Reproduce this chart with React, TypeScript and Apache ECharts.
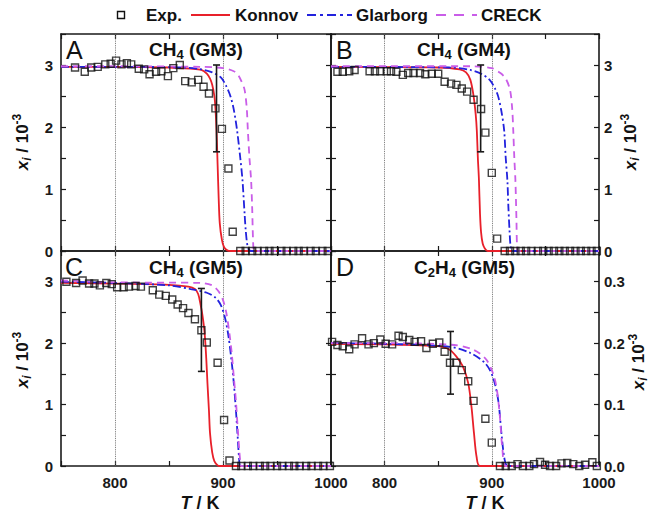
import React, { useEffect, useRef } from 'react';
import * as echarts from 'echarts';

const FONT = '"Liberation Sans", Arial, Helvetica, sans-serif';
const RED = '#e8202a';
const BLUE = '#2222dd';
const MAG = '#c95de8';
const INK = '#1a1a1a';

// x-axis tick labels (K) and dotted guide temperatures
const xTickLabels = [800, 900, 1000];
const gridTemps = [800, 900];

// ---------- Panel A : CH4 (GM3) ----------
const expA = [
  [763, 2.96], [772, 2.89], [778, 2.96], [784, 2.97], [791, 3.01], [796, 3.02], [801, 3.07], [806, 3.01],
  [811, 3.03], [815, 3.01], [822, 2.94], [827, 2.93], [832, 2.85], [838, 2.89], [843, 2.9], [849, 2.82],
  [854, 2.95], [860, 3.0], [865, 2.74], [871, 2.72], [877, 2.76], [882, 2.65], [887, 2.54], [893, 2.3],
  [899, 1.97], [905, 1.33], [909, 0.31],
  [916, 0], [921, 0], [927, 0], [932, 0], [938, 0], [943, 0], [948, 0], [954, 0], [959, 0], [965, 0],
  [970, 0], [975, 0], [981, 0], [986, 0], [992, 0], [997, 0],
];
const errA = [[894, 1.6, 3.0]];
const konnovA = [
  [750, 2.97], [800, 2.97], [850, 2.96], [870, 2.94], [880, 2.92], [885, 2.86], [888, 2.78], [890, 2.68],
  [892, 2.5], [893, 2.3], [894, 1.95], [895, 1.4], [896, 0.85], [897, 0.45], [899, 0.18], [901, 0.06],
  [904, 0.01], [907, 0], [1000, 0],
];
const glarborgA = [
  [750, 2.97], [800, 2.97], [860, 2.96], [880, 2.93], [890, 2.88], [898, 2.8], [903, 2.66], [907, 2.49],
  [910, 2.28], [913, 1.95], [916, 1.5], [918, 1.15], [920, 0.6], [921, 0.34], [922.5, 0.1], [924, 0.02],
  [926, 0], [1000, 0],
];
const creckA = [
  [750, 2.98], [800, 2.98], [880, 2.97], [900, 2.95], [910, 2.9], [914, 2.84], [917, 2.74], [920, 2.6],
  [922, 2.3], [923, 1.95], [924.5, 1.5], [926, 1.15], [927, 0.7], [928, 0.1], [929, 0], [1000, 0],
];

// ---------- Panel B : CH4 (GM4) ----------
const expB = [
  [756, 2.89], [761, 2.89], [767, 2.9], [772, 2.92], [786, 2.9], [791, 2.9], [796, 2.9], [802, 2.9],
  [806, 2.9], [811, 2.89], [817, 2.84], [822, 2.87], [827, 2.87], [833, 2.87], [838, 2.85], [844, 2.86],
  [850, 2.86], [856, 2.73], [862, 2.7], [867, 2.68], [872, 2.62], [877, 2.57], [883, 2.44], [890, 2.29],
  [894, 1.91], [900, 1.26], [905, 0.2],
  [912, 0], [917, 0], [922, 0], [927, 0], [932, 0], [937, 0], [943, 0], [948, 0], [953, 0], [958, 0],
  [963, 0], [968, 0], [973, 0], [978, 0], [983, 0], [988, 0], [993, 0], [998, 0],
];
const errB = [[889.6, 1.6, 3.0]];
const konnovB = [
  [750, 2.97], [850, 2.96], [870, 2.93], [876, 2.88], [880, 2.76], [883, 2.5], [885, 2.2], [886, 1.95],
  [887, 1.5], [888, 1.15], [889, 0.6], [890, 0.3], [891.5, 0.12], [893.5, 0.04], [896, 0], [1000, 0],
];
const glarborgB = [
  [750, 2.97], [860, 2.96], [880, 2.92], [890, 2.86], [898, 2.76], [903, 2.62], [906, 2.49], [909, 2.25],
  [911.5, 1.95], [913, 1.5], [914.5, 1.15], [915.5, 0.7], [916.5, 0.34], [917.5, 0.08], [919, 0], [1000, 0],
];
const creckB = [
  [750, 2.98], [880, 2.98], [900, 2.95], [908, 2.87], [913, 2.78], [917, 2.6], [919, 2.3], [920, 1.95],
  [921, 1.5], [922, 1.15], [923, 0.5], [923.5, 0.1], [924.5, 0], [1000, 0],
];

// ---------- Panel C : CH4 (GM5) ----------
const expC = [
  [755, 3.0], [764, 2.98], [770, 3.02], [776, 2.97], [781, 2.97], [786, 2.94], [792, 2.98], [797, 2.96],
  [802, 2.91], [808, 2.91], [813, 2.92], [819, 2.93], [824, 2.92], [835, 2.86], [841, 2.79], [847, 2.77],
  [853, 2.71], [858, 2.63], [863, 2.57], [868, 2.49], [874, 2.39], [880, 2.21], [885, 2.01], [895, 1.68],
  [901, 0.75], [906, 0.09],
  [912, 0], [917, 0], [923, 0], [928, 0], [934, 0], [939, 0], [944, 0], [950, 0], [955, 0], [961, 0],
  [966, 0], [971, 0], [977, 0], [982, 0], [988, 0], [993, 0], [999, 0],
];
const errC = [[880, 1.54, 2.89]];
const konnovC = [
  [750, 2.98], [800, 2.97], [850, 2.95], [868, 2.92], [874, 2.88], [877, 2.8], [879, 2.65], [881, 2.45],
  [883, 2.16], [884.5, 1.75], [885.6, 1.35], [887, 0.9], [888, 0.53], [890, 0.22], [892, 0.08], [895, 0.01],
  [897, 0], [1000, 0],
];
const glarborgC = [
  [750, 3.0], [800, 2.98], [850, 2.94], [870, 2.88], [885, 2.82], [893, 2.74], [898, 2.62], [902, 2.4],
  [905, 2.12], [908, 1.7], [910, 1.35], [912, 0.9], [913.4, 0.53], [915, 0.1], [916, 0], [1000, 0],
];
const creckC = [
  [750, 3.02], [800, 2.99], [880, 2.98], [890, 2.94], [896, 2.84], [900, 2.7], [903, 2.5], [906, 2.15],
  [908, 1.85], [910, 1.45], [912, 1.05], [913.5, 0.65], [915, 0.27], [916, 0.08], [917, 0], [1000, 0],
];

// ---------- Panel D : C2H4 (GM5) ----------
const expD = [
  [751, 0.202], [756, 0.197], [761, 0.195], [767, 0.19], [772, 0.198], [779, 0.208], [785, 0.198], [790, 0.2],
  [796, 0.206], [801, 0.199], [807, 0.198], [813, 0.212], [817, 0.21], [823, 0.205], [828, 0.202], [834, 0.203],
  [839, 0.192], [845, 0.199], [851, 0.201], [856, 0.186], [861, 0.168], [867, 0.168], [872, 0.156], [878, 0.138],
  [883, 0.106], [894, 0.077], [900, 0.038],
  [907.6, 0], [913, 0], [918.6, 0], [924, 0.003], [929, 0], [935, 0], [939.4, 0.003], [945, 0.0065],
  [949.7, 0.002], [954.3, 0], [960, 0], [965, 0.0043], [970.4, 0.005], [976, 0.003], [981.6, 0], [987, 0.002],
  [993.8, 0.006], [998, 0],
];
const errD = [[861.5, 0.117, 0.219]];
const konnovD = [
  [750, 0.199], [800, 0.198], [850, 0.195], [860, 0.19], [867, 0.178], [873, 0.162], [878, 0.135], [881, 0.097],
  [883.4, 0.053], [885.8, 0.015], [889, 0], [1000, 0],
];
const glarborgD = [
  [750, 0.2], [800, 0.199], [861, 0.194], [880, 0.184], [894, 0.167], [901, 0.145], [906, 0.107], [909, 0.053],
  [912, 0.01], [915, 0], [1000, 0],
];
const creckD = [
  [750, 0.2], [800, 0.2], [865, 0.197], [883, 0.189], [895, 0.173], [903, 0.14], [907, 0.091], [910, 0.026],
  [913, 0], [1000, 0],
];

const fmtInt = (v: number) => (Math.abs(v - Math.round(v)) < 1e-6 ? String(Math.round(v)) : '');
const fmtTenth = (v: number) => (Math.abs(v * 10 - Math.round(v * 10)) < 1e-6 ? v.toFixed(1) : '');
const fmtX = (v: number) => (xTickLabels.indexOf(Math.round(v)) >= 0 ? String(Math.round(v)) : '');

const panels = [
  { grid: { left: 61, top: 34, width: 270, height: 217 }, exp: expA, err: errA, k: konnovA, g: glarborgA, c: creckA, yMax: 3.5, yInt: 0.5, fmt: fmtInt, bottom: false, right: false },
  { grid: { left: 331, top: 34, width: 268, height: 217 }, exp: expB, err: errB, k: konnovB, g: glarborgB, c: creckB, yMax: 3.5, yInt: 0.5, fmt: fmtInt, bottom: false, right: true },
  { grid: { left: 61, top: 251, width: 270, height: 215 }, exp: expC, err: errC, k: konnovC, g: glarborgC, c: creckC, yMax: 3.5, yInt: 0.5, fmt: fmtInt, bottom: true, right: false },
  { grid: { left: 331, top: 251, width: 268, height: 215 }, exp: expD, err: errD, k: konnovD, g: glarborgD, c: creckD, yMax: 0.35, yInt: 0.05, fmt: fmtTenth, bottom: true, right: true },
];

const axisLine = { show: true, onZero: false, lineStyle: { color: INK, width: 1.6 } };
const axisTick = { show: true, inside: true, length: 5, lineStyle: { color: INK, width: 1.2 } };
const labelFont = { fontFamily: FONT, fontWeight: 'bold' as const, fontSize: 15, color: INK };

function buildOption() {
  const grid: any[] = [];
  const xAxis: any[] = [];
  const yAxis: any[] = [];
  const series: any[] = [];
  panels.forEach((p, i) => {
    grid.push({ ...p.grid, containLabel: false });
    const xBase = { type: 'value', gridIndex: i, min: 750, max: 1000, interval: 50, axisLine, axisTick, splitLine: { show: false } };
    xAxis.push({ ...xBase, position: 'bottom', axisLabel: { show: p.bottom, formatter: fmtX, margin: 9, ...labelFont } });
    xAxis.push({ ...xBase, position: 'top', axisLabel: { show: false } });
    const yBase = { type: 'value', gridIndex: i, min: 0, max: p.yMax, interval: p.yInt, axisLine, axisTick, splitLine: { show: false } };
    yAxis.push({ ...yBase, position: 'left', axisLabel: { show: !p.right, formatter: p.fmt, margin: 8, ...labelFont } });
    yAxis.push({ ...yBase, position: 'right', axisLabel: { show: p.right, formatter: p.fmt, margin: 5, ...labelFont } });
    const ax = { xAxisIndex: 2 * i, yAxisIndex: 2 * i };
    series.push({
      type: 'line', name: 'Konnov', ...ax, data: p.k, symbol: 'none', smooth: 0.3, z: 3,
      lineStyle: { color: RED, width: 1.8 },
      markLine: {
        silent: true, symbol: ['none', 'none'], z: 1, label: { show: false },
        lineStyle: { type: 'dotted', color: '#666', width: 0.9 },
        data: gridTemps.map((t) => ({ xAxis: t })),
      },
    });
    series.push({
      type: 'line', name: 'Glarborg', ...ax, data: p.g, symbol: 'none', smooth: 0.3, z: 3,
      lineStyle: { color: BLUE, width: 1.8, type: [8, 3, 2, 3] },
    });
    series.push({
      type: 'line', name: 'CRECK', ...ax, data: p.c, symbol: 'none', smooth: 0.3, z: 3,
      lineStyle: { color: MAG, width: 1.8, type: [7, 5] },
    });
    series.push({
      type: 'scatter', name: 'Exp.', ...ax, data: p.exp, symbol: 'rect', symbolSize: 7, z: 4,
      itemStyle: { color: 'rgba(0,0,0,0)', borderColor: '#111', borderWidth: 1.4 },
    });
    series.push({
      type: 'custom', name: 'err', ...ax, data: p.err, z: 5,
      encode: { x: 0, y: [1, 2] },
      renderItem: (_params: any, api: any) => {
        const x = api.value(0);
        const a = api.coord([x, api.value(1)]);
        const b = api.coord([x, api.value(2)]);
        const st = { stroke: INK, lineWidth: 1.6 };
        return {
          type: 'group',
          children: [
            { type: 'line', shape: { x1: a[0], y1: a[1], x2: b[0], y2: b[1] }, style: st },
            { type: 'line', shape: { x1: a[0] - 3.5, y1: a[1], x2: a[0] + 3.5, y2: a[1] }, style: st },
            { type: 'line', shape: { x1: b[0] - 3.5, y1: b[1], x2: b[0] + 3.5, y2: b[1] }, style: st },
          ],
        };
      },
    });
  });

  const txt = (x: number, y: number, text: string, rich: any, align = 'center', rotation = 0) => ({
    type: 'text', x, y, rotation, z: 100,
    style: { text, rich, align, verticalAlign: 'middle', textAlign: align, textVerticalAlign: 'middle', fill: '#111' },
  });

  const titleRich = {
    b: { fontSize: 19, fontWeight: 'bold', fontFamily: FONT, lineHeight: 24, verticalAlign: 'middle', fill: '#111' },
    s: { fontSize: 13, fontWeight: 'bold', fontFamily: FONT, lineHeight: 12, verticalAlign: 'bottom', fill: '#111' },
  };
  const letterRich = { l: { fontSize: 25, fontFamily: FONT, fill: '#111' } };
  const yNameRich = {
    x: { fontSize: 17, fontWeight: 'bold', fontStyle: 'italic', fontFamily: FONT, lineHeight: 22, verticalAlign: 'middle', fill: '#111' },
    i: { fontSize: 12, fontWeight: 'bold', fontStyle: 'italic', fontFamily: FONT, lineHeight: 10, verticalAlign: 'bottom', fill: '#111' },
    n: { fontSize: 17, fontWeight: 'bold', fontFamily: FONT, lineHeight: 22, verticalAlign: 'middle', fill: '#111' },
    p: { fontSize: 12, fontWeight: 'bold', fontFamily: FONT, lineHeight: 10, verticalAlign: 'top', fill: '#111' },
  };
  const xNameRich = {
    t: { fontSize: 18, fontWeight: 'bold', fontStyle: 'italic', fontFamily: FONT, fill: '#111' },
    n: { fontSize: 18, fontWeight: 'bold', fontFamily: FONT, fill: '#111' },
  };
  const legRich = { a: { fontSize: 17, fontWeight: 'bold', fontFamily: FONT, fill: '#111' } };
  const yName = '{x|x}{i|i}{n| / 10}{p|-3}';
  const LY = 15;

  const graphic: any[] = [
    // legend
    { type: 'rect', shape: { x: 117.5, y: LY - 3.5, width: 7, height: 7 }, style: { fill: 'none', stroke: '#111', lineWidth: 1.4 }, z: 100 },
    txt(146, LY, '{a|Exp.}', legRich, 'left'),
    { type: 'line', shape: { x1: 191, y1: LY, x2: 230, y2: LY }, style: { stroke: RED, lineWidth: 2 }, z: 100 },
    txt(235, LY, '{a|Konnov}', legRich, 'left'),
    { type: 'line', shape: { x1: 307, y1: LY, x2: 352, y2: LY }, style: { stroke: BLUE, lineWidth: 2, lineDash: [9, 4, 3, 4] }, z: 100 },
    txt(356, LY, '{a|Glarborg}', legRich, 'left'),
    { type: 'line', shape: { x1: 436, y1: LY, x2: 477, y2: LY }, style: { stroke: MAG, lineWidth: 2, lineDash: [10, 8] }, z: 100 },
    txt(481, LY, '{a|CRECK}', legRich, 'left'),
    // panel letters
    txt(66, 50, '{l|A}', letterRich, 'left'),
    txt(336, 50, '{l|B}', letterRich, 'left'),
    txt(65, 267, '{l|C}', letterRich, 'left'),
    txt(336, 267, '{l|D}', letterRich, 'left'),
    // panel titles
    txt(196, 49, '{b|CH}{s|4}{b| (GM3)}', titleRich),
    txt(464, 49, '{b|CH}{s|4}{b| (GM4)}', titleRich),
    txt(196, 267, '{b|CH}{s|4}{b| (GM5)}', titleRich),
    txt(464.5, 267, '{b|C}{s|2}{b|H}{s|4}{b| (GM5)}', titleRich),
    // axis names
    txt(22, 142, yName, yNameRich, 'center', Math.PI / 2),
    txt(22, 360, yName, yNameRich, 'center', Math.PI / 2),
    txt(630, 142, yName, yNameRich, 'center', Math.PI / 2),
    txt(638, 362, yName, yNameRich, 'center', Math.PI / 2),
    txt(200, 503, '{t|T}{n| / K}', xNameRich),
    txt(485, 503, '{t|T}{n| / K}', xNameRich),
  ];

  return {
    animation: false,
    backgroundColor: '#ffffff',
    textStyle: { fontFamily: FONT },
    grid,
    xAxis,
    yAxis,
    series,
    graphic,
  };
}

export default function App() {
  const ref = useRef<HTMLDivElement>(null);
  useEffect(() => {
    const chart = echarts.init(ref.current!, null, { renderer: 'svg' });
    chart.setOption(buildOption() as any);
    return () => chart.dispose();
  }, []);
  return <div ref={ref} style={{ position: 'absolute', left: 0, top: 0, width: 651, height: 521 }} />;
}
